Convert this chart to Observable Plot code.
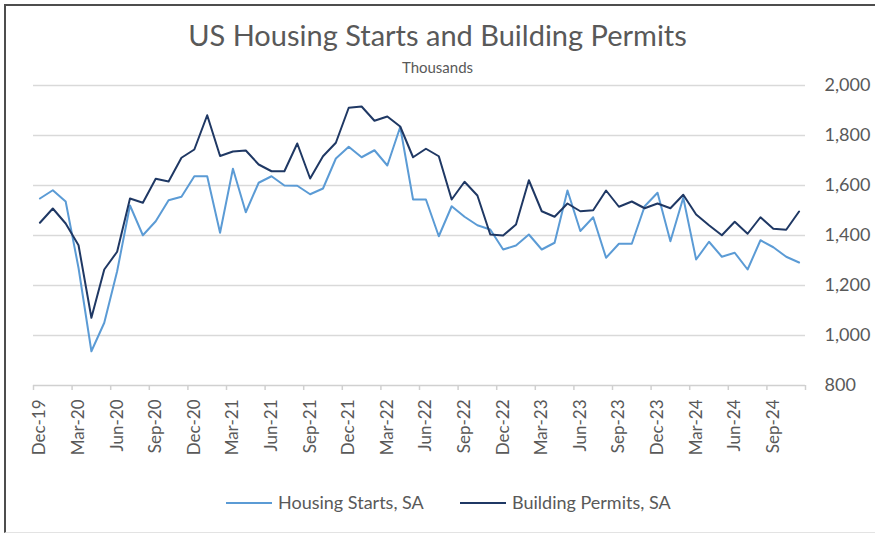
<!DOCTYPE html>
<html><head><meta charset="utf-8">
<script src="https://cdn.jsdelivr.net/npm/d3@7"></script>
<script src="https://cdn.jsdelivr.net/npm/@observablehq/plot@0.6"></script>
<style>
body{margin:0;background:#fff;}
#wrap{position:relative;width:875px;height:536px;overflow:hidden;font-family:Lato,sans-serif;color:#595959;background:#fff;}
#frame{position:absolute;left:4px;top:4px;width:900px;height:529px;border-left:2px solid #4d4d4d;border-top:2px solid #4d4d4d;border-bottom:1px solid #e3e3e3;box-sizing:border-box;}
#title{position:absolute;left:0;width:875px;top:18px;text-align:center;font-size:29px;line-height:34px;white-space:nowrap;}
#sub{position:absolute;left:0;width:875px;top:58px;text-align:center;font-size:15px;line-height:18px;}
#chart{position:absolute;left:0;top:0;}
#legend{position:absolute;top:491px;left:0;width:875px;font-size:18px;line-height:22px;}
.li{position:absolute;top:0;white-space:nowrap;}
.sw{display:inline-block;width:46px;height:0;border-top:2px solid;vertical-align:middle;margin-right:6px;position:relative;top:-1px;}
</style></head>
<body>
<div id="wrap">
  <div id="frame"></div>
  <div id="title">US Housing Starts and Building Permits</div>
  <div id="sub">Thousands</div>
  <div id="chart"></div>
  <div id="legend">
    <div class="li" style="left:226px"><span class="sw" style="border-color:#5B9BD5"></span>Housing Starts, SA</div>
    <div class="li" style="left:460px"><span class="sw" style="border-color:#1F3864"></span>Building Permits, SA</div>
  </div>
</div>
<script>
const months = ["Dec-19","Jan-20","Feb-20","Mar-20","Apr-20","May-20","Jun-20","Jul-20","Aug-20","Sep-20","Oct-20","Nov-20",
"Dec-20","Jan-21","Feb-21","Mar-21","Apr-21","May-21","Jun-21","Jul-21","Aug-21","Sep-21","Oct-21","Nov-21",
"Dec-21","Jan-22","Feb-22","Mar-22","Apr-22","May-22","Jun-22","Jul-22","Aug-22","Sep-22","Oct-22","Nov-22",
"Dec-22","Jan-23","Feb-23","Mar-23","Apr-23","May-23","Jun-23","Jul-23","Aug-23","Sep-23","Oct-23","Nov-23",
"Dec-23","Jan-24","Feb-24","Mar-24","Apr-24","May-24","Jun-24","Jul-24","Aug-24","Sep-24","Oct-24","Nov-24"];

const housingStarts = [1548,1581,1536,1270,937,1051,1257,1520,1401,1457,1541,1555,
1637,1637,1411,1667,1493,1611,1637,1600,1599,1565,1588,1708,
1755,1713,1741,1680,1834,1544,1544,1397,1517,1475,1441,1424,
1344,1360,1404,1344,1371,1580,1418,1473,1311,1367,1367,1517,
1571,1377,1551,1304,1375,1315,1331,1264,1381,1353,1315,1292];

const buildingPermits = [1451,1508,1448,1361,1071,1264,1335,1548,1531,1627,1616,1711,
1744,1881,1718,1736,1740,1684,1657,1657,1768,1628,1717,1771,
1911,1916,1859,1876,1836,1713,1747,1717,1544,1615,1560,1404,
1400,1444,1621,1497,1475,1528,1497,1501,1580,1515,1536,1509,
1528,1509,1563,1484,1441,1401,1455,1407,1473,1427,1423,1496];

const yTicks = [800,1000,1200,1400,1600,1800,2000];

const n = months.length;
const boundaryTicks = d3.range(0, n + 1, 3);
const labelTicks = d3.range(0, n, 3).map(i => i + 0.5);

const chart = Plot.plot({
  width: 875,
  height: 536,
  marginLeft: 33,
  marginRight: 70,
  marginTop: 85,
  marginBottom: 151,
  style: {fontFamily: "Lato, sans-serif", color: "#595959", background: "transparent", overflow: "visible"},
  x: {type: "linear", domain: [0, n]},
  y: {domain: [800, 2000]},
  marks: [
    Plot.gridY(yTicks.filter(d => d > 800), {stroke: "#d9d9d9", strokeOpacity: 1, strokeWidth: 1.5}),
    Plot.ruleY([800], {stroke: "#d0d0d0", strokeWidth: 1.5}),
    Plot.axisX(boundaryTicks, {tickSize: 5, tickFormat: () => "", stroke: "#d0d0d0", strokeWidth: 1.5, label: null}),
    Plot.axisX(labelTicks, {tickSize: 0, tickRotate: -90, tickPadding: 14, tickFormat: d => months[Math.floor(d)], fontSize: 17, fill: "#595959", label: null}),
    Plot.axisY(yTicks, {anchor: "right", tickSize: 0, tickPadding: 19, tickFormat: d3.format(","), fontSize: 18, fill: "#595959", label: null}),
    Plot.line(housingStarts, {x: (d, i) => i + 0.5, y: d => d, stroke: "#5B9BD5", strokeWidth: 2}),
    Plot.line(buildingPermits, {x: (d, i) => i + 0.5, y: d => d, stroke: "#1F3864", strokeWidth: 2})
  ]
});
document.getElementById("chart").appendChild(chart);
</script>
</body></html>
